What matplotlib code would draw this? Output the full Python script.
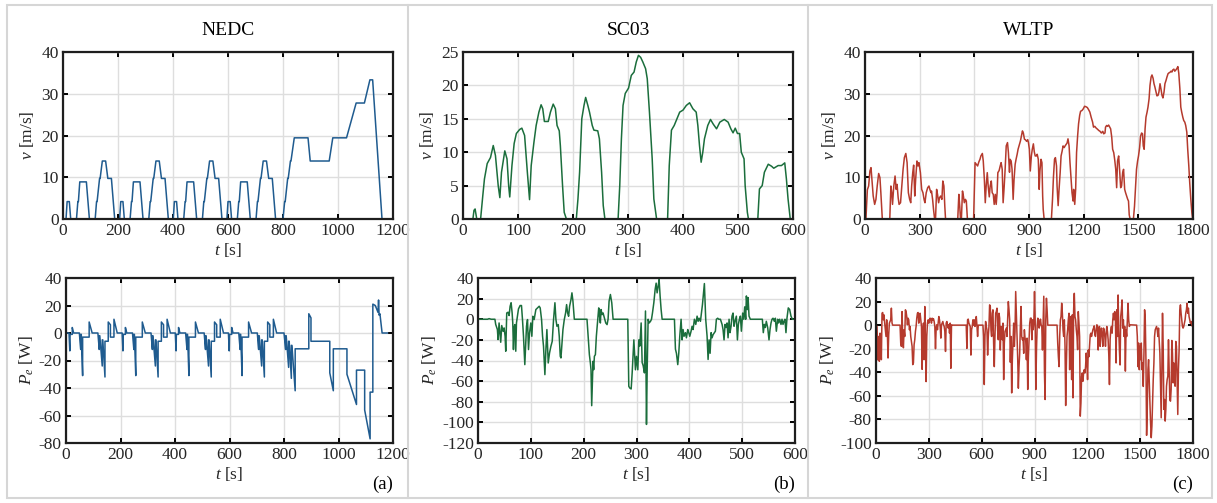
import matplotlib
matplotlib.use("Agg")
import matplotlib.pyplot as plt
from matplotlib.lines import Line2D
from matplotlib.patches import Rectangle

plt.rcParams["font.family"] = ["Liberation Serif", "DejaVu Serif"]
plt.rcParams["mathtext.fontset"] = "custom"
plt.rcParams["mathtext.rm"] = "Liberation Serif"
plt.rcParams["mathtext.it"] = "Liberation Serif:italic"
plt.rcParams["axes.unicode_minus"] = False

# ---- data, (t [s], value) pairs ----
cycles = ["NEDC", "SC03", "WLTP"]
panel_tags = ["(a)", "(b)", "(c)"]
colors = ["#1f5b8f", "#1b6e3c", "#b53a2d"]

# NEDC speed [m/s]
nedc_v = [
    (0, 0), (11, 0), (15, 4.17), (23, 4.17), (28, 0), (49, 0), (54, 4.17), (56, 4.17), (61, 8.89), (85, 8.89),
    (96, 0), (117, 0), (122, 4.17), (124, 4.17), (133, 9.72), (135, 9.72), (143, 13.89), (155, 13.89), (163, 9.72),
    (176, 9.72), (188, 0),
    (206, 0), (210, 4.17), (218, 4.17), (223, 0), (244, 0), (249, 4.17), (251, 4.17), (256, 8.89), (280, 8.89),
    (291, 0), (312, 0), (317, 4.17), (319, 4.17), (328, 9.72), (330, 9.72), (338, 13.89), (350, 13.89), (358, 9.72),
    (371, 9.72), (383, 0),
    (401, 0), (405, 4.17), (413, 4.17), (418, 0), (439, 0), (444, 4.17), (446, 4.17), (451, 8.89), (475, 8.89),
    (486, 0), (507, 0), (512, 4.17), (514, 4.17), (523, 9.72), (525, 9.72), (533, 13.89), (545, 13.89), (553, 9.72),
    (566, 9.72), (578, 0),
    (596, 0), (600, 4.17), (608, 4.17), (613, 0), (634, 0), (639, 4.17), (641, 4.17), (646, 8.89), (670, 8.89),
    (681, 0), (702, 0), (707, 4.17), (709, 4.17), (718, 9.72), (720, 9.72), (728, 13.89), (740, 13.89), (748, 9.72),
    (761, 9.72), (773, 0),
    (800, 0), (806, 4.17), (808, 4.17), (817, 9.72), (819, 9.72), (827, 13.89), (829, 13.89), (841, 19.44),
    (891, 19.44), (899, 13.89), (968, 13.89), (981, 19.44), (1031, 19.44), (1066, 27.78), (1096, 27.78),
    (1116, 33.33), (1126, 33.33), (1160, 0), (1180, 0),
]

# NEDC power [W]
nedc_p = [
    (0, 0), (11, 0), (14, -13), (15, -1), (23, -1), (23, 4), (28, 0), (49, 0), (54, -12), (54, -1), (56, -1),
    (61, -31), (61, -3), (85, -3), (85, 8), (96, 0), (117, 0), (122, -12), (122, -2), (124, -2), (133, -24),
    (133, -5), (135, -5), (143, -32), (143, -6), (155, -6), (155, 8), (163, 6), (163, -3), (176, -3), (176, 10),
    (188, 0),
    (206, 0), (209, -13), (210, -1), (218, -1), (218, 4), (223, 0), (244, 0), (249, -12), (249, -1), (251, -1),
    (256, -31), (256, -3), (280, -3), (280, 8), (291, 0), (312, 0), (317, -12), (317, -2), (319, -2), (328, -24),
    (328, -5), (330, -5), (338, -32), (338, -6), (350, -6), (350, 8), (358, 6), (358, -3), (371, -3), (371, 10),
    (383, 0),
    (401, 0), (404, -13), (405, -1), (413, -1), (413, 4), (418, 0), (439, 0), (444, -12), (444, -1), (446, -1),
    (451, -31), (451, -3), (475, -3), (475, 8), (486, 0), (507, 0), (512, -12), (512, -2), (514, -2), (523, -24),
    (523, -5), (525, -5), (533, -32), (533, -6), (545, -6), (545, 8), (553, 6), (553, -3), (566, -3), (566, 10),
    (578, 0),
    (596, 0), (599, -13), (600, -1), (608, -1), (608, 4), (613, 0), (634, 0), (639, -12), (639, -1), (641, -1),
    (646, -31), (646, -3), (670, -3), (670, 8), (681, 0), (702, 0), (707, -12), (707, -2), (709, -2), (718, -24),
    (718, -5), (720, -5), (728, -32), (728, -6), (740, -6), (740, 8), (748, 6), (748, -3), (761, -3), (761, 10),
    (773, 0),
    (800, 0), (806, -12), (806, -2), (808, -2), (817, -25), (817, -6), (819, -6), (827, -33), (827, -9), (829, -9),
    (841, -42), (841, -11.5), (891, -11.5), (891, 14), (899, 11), (899, -6), (968, -6), (968, -29), (981, -42),
    (981, -11.5), (1031, -11.5), (1031, -30), (1066, -52), (1066, -27), (1096, -27), (1096, -56), (1116, -77),
    (1116, -43), (1126, -43), (1126, 21), (1135, 20), (1145, 15), (1147, 24), (1149, 13), (1152, 14), (1160, 0),
    (1180, 0),
]

# SC03 speed [m/s]
sc03_v = [
    (0, 0), (18, 0), (20, 1.3), (22, 1.5), (25, 0), (32, 0), (36, 3.5), (39, 6), (44, 8.3), (50, 9.2), (55, 11.0),
    (59, 9.5), (64, 5), (67, 3.2), (70, 7), (76, 10.2), (80, 9), (83, 5), (85, 3.3), (89, 8), (93, 11.3),
    (97, 12.8), (103, 13.4), (107, 13.6), (112, 12.5), (117, 7), (121, 2.9), (124, 8), (129, 11.5), (133, 14),
    (138, 16), (142, 17.1), (145, 16.5), (148, 14.6), (155, 14.6), (159, 16), (164, 17.2), (168, 16.5), (171, 14),
    (175, 13.2), (177, 11), (181, 5), (184, 1), (188, 0), (206, 0), (209, 3), (212, 7), (216, 15), (220, 17),
    (223, 18.2), (227, 17), (230, 16), (235, 14), (238, 13.3), (245, 13.2), (248, 12), (252, 7), (255, 2),
    (258, 0), (282, 0), (285, 5), (288, 12), (291, 17), (295, 18.8), (301, 19.6), (306, 21.5), (311, 22),
    (315, 23.5), (319, 24.5), (323, 24.2), (327, 23.5), (332, 22.5), (335, 21), (339, 16), (344, 9), (347, 3),
    (352, 0), (372, 0), (375, 8), (379, 13.3), (384, 14), (388, 14.8), (394, 16), (400, 16.3), (406, 17),
    (412, 17.4), (418, 16.5), (424, 16), (427, 14), (430, 11), (433, 8.5), (436, 10), (439, 12), (445, 14),
    (450, 14.9), (455, 14.2), (461, 13.5), (467, 14.5), (475, 14.9), (482, 14.5), (487, 13.5), (491, 12.9),
    (495, 13.6), (499, 12.8), (503, 12.8), (506, 10), (511, 9), (513, 5), (517, 1), (519, 0), (536, 0),
    (539, 4.5), (544, 5), (548, 7), (555, 8.2), (561, 7.9), (565, 7.6), (573, 8), (579, 8), (585, 8.4), (588, 6),
    (591, 3), (595, 0), (600, 0),
]

# SC03 power [W]
sc03_p = [
    (0, 0), (18, 0), (21, 0.6), (25, 0), (32, 0), (33.5, -5), (36.7, -10), (38, -19.7), (39.9, -3.6),
    (41.8, -14.6), (43, -22.3), (44.9, -6.1), (47.5, -11.7), (49.4, -8.4), (51.3, -16.5), (52.5, -31),
    (54.4, 6.1), (57, 6.8), (58.9, 3.6), (60.8, 12.6), (62.7, 16), (64.6, 6.1), (65.8, -3.6), (67.1, -29.4),
    (68.4, -8.4), (69.6, -5.2), (71.5, -31), (72.8, -3.6), (74.7, 2.9), (76.6, 10), (79.7, 13.3), (82.3, 13.3),
    (84.2, -0.3), (86.1, -16.5), (88.6, -44), (90.5, -23), (91.8, -6.8), (93.7, -0.3), (95.6, -29.4),
    (97.5, -13.3), (100, -3.6), (101.9, -16.5), (103.8, 2.9), (106.3, -0.3), (109.5, 9.4), (112.7, 11),
    (115.8, 12.6), (117.7, 11), (120.3, -0.3), (122.2, -16.5), (124, -26.2), (126.6, -53.7), (128.5, -29.4),
    (130.4, -10), (132.9, -42.4), (135.4, -32.7), (138, -26.2), (140.5, -21.4), (143, -0.3), (145.6, 16),
    (147.5, -0.3), (149.4, -6.8), (151.9, -5.2), (153.8, -16.5), (155.7, -35.9), (157, -37.5), (158.9, -23),
    (160.8, -10), (163.3, -0.3), (165.8, 6.1), (167.7, 14.2), (169.6, 6.1), (171.5, 2.9), (173.4, 12.6),
    (176, 19.1), (177.8, 25.6), (179.7, 17.5), (182.3, 0), (206.3, 0), (208.9, -19.7), (210.8, -34.3),
    (212.7, -42.4), (213.9, -49), (215.2, -83.8), (216.5, -61.8), (217.7, -40.8), (219, -48.9), (220.3, -35.9),
    (222.2, -34.3), (224, -16.5), (226.6, 0), (228.5, 11), (229.7, 4.5), (231.6, -3.6), (232.9, 9.4),
    (234.8, 4.5), (236.7, 6.1), (239.2, 1.3), (241.8, -3.6), (244.3, -5.2), (246.2, 0), (248.1, 17.5),
    (250.6, 24), (253.2, 15.9), (255.7, 0), (283.5, 0), (285.4, -65), (287.3, -66.7), (289.9, -67.6),
    (291.8, -52), (295, -20), (298, -49), (300, -36), (302.5, -49), (304.4, -20), (306.3, -26), (308.8, -3.6),
    (310.7, -42), (312.6, -45), (315, -52), (317, 8), (318.9, -102), (320.2, -49), (322, 0), (324, -3.6),
    (326.5, -2), (328.4, 0), (330.2, 6), (332.8, 16), (335.3, 29), (337.2, 35), (339, 25.6), (341, 32),
    (342.8, 38.5), (344.7, 22.3), (346.6, 9.4), (348.5, 0), (371.8, 0), (373.7, -29), (375.6, -33),
    (378.1, -44), (380, -33), (381.9, -16.5), (384.4, 0), (386.3, -20), (388.2, -10), (390, -16.5),
    (392.6, -13), (394.5, -18), (397, -10), (398.9, -13), (400.8, -16.5), (403.3, -11.6), (405.2, -6.8),
    (407.1, -10), (409.6, 0), (412.2, -5), (414.7, 3), (416.6, -2), (418.5, 1), (421, -2), (422.9, 6),
    (424.8, 14), (426.8, 25.6), (428.5, 34.6), (431, 0), (433.6, -16.5), (435.5, -39), (437.4, -20),
    (439.3, -33), (441.2, -13), (443, -18), (444.9, -15), (447.5, -13), (449.3, -11.6), (451.2, 0),
    (453.7, 1), (455.6, 0), (458.8, 0), (462, -5), (463.8, -10), (465.7, -20), (467.6, -5), (469.5, -8),
    (471.4, -3.6), (473.3, -18), (475.2, 0), (477, -13), (479, -6.8), (480.8, 3), (482.7, 6), (484.6, -6.8),
    (486.5, -2), (489, 3), (491, -20), (492.8, -5), (494.7, 0), (496.6, 3), (498.5, -11.6), (501, 6),
    (503, 0), (504.8, 12), (506.7, 0), (508, 22.6), (509.9, 9.4), (511.2, 21), (513, 3), (515.5, 0),
    (538.2, 0), (540, -13), (542, -5), (543.9, -8), (545.7, -2), (548.3, -8), (550.8, -20), (552.7, -10),
    (554.6, -3.6), (556.5, 0), (558.4, 1), (560.9, -2), (562.8, 1), (564.7, -11.6), (567.2, 0), (569, -3.6),
    (571, 0), (573.5, -5), (575.4, 0), (577.3, -5), (579.1, -2), (581, 0), (582.9, -13), (584.8, 1),
    (587.3, 11), (589.9, 9.4), (592.4, 3), (594.9, 0), (600, 0),
]

# WLTP speed [m/s]
wltp_v = [
    (0, 0), (5, 0), (13, 7), (20, 7.9), (27, 11.5), (33, 12.3), (38, 9.5), (45, 5.5), (53, 3.5), (60, 4.7),
    (67, 7.9), (75, 10.9), (82, 9.9), (87, 6.3), (95, 0), (136, 0), (142, 7.9), (147, 6.3), (151, 3.5),
    (158, 7.9), (165, 10.3), (171, 7.1), (176, 8.3), (182, 5.1), (187, 3.5), (195, 3.9), (202, 7.9),
    (209, 11.9), (216, 14.7), (224, 15.7), (231, 13.5), (238, 6.3), (245, 4.7), (251, 3.9), (256, 7.9),
    (262, 11.1), (267, 12.9), (273, 5.5), (278, 9.5), (285, 13.9), (291, 12.7), (296, 13.5), (304, 11.1),
    (311, 7.1), (318, 6.3), (324, 4.7), (329, 3.9), (336, 6.3), (344, 7.5), (351, 7.9), (356, 7.1), (362, 6.3),
    (365, 6.7), (371, 4.7), (376, 2.3), (382, 0), (387, 0), (393, 7.1), (398, 5.9), (404, 3.9), (409, 5.1),
    (415, 5.5), (422, 4.7), (427, 9.1), (433, 7.9), (438, 3.0), (442, 0), (509, 0), (515, 5.9), (520, 3.0),
    (524, 0), (529, 0), (535, 6.7), (540, 5.5), (545, 3.9), (551, 4.7), (556, 4.3), (562, 0), (596, 0),
    (604, 13.5), (611, 13.1), (618, 12.7), (625, 13.7), (631, 14.3), (636, 15.1), (644, 15.7), (649, 13.9),
    (655, 9.5), (660, 3.9), (665, 7.9), (671, 11.1), (676, 7.9), (682, 5.3), (687, 7.9), (693, 9.1),
    (698, 6.3), (704, 5.9), (709, 3.5), (715, 5.9), (720, 3.5), (725, 6.3), (729, 11.1), (736, 11.6),
    (742, 12.7), (747, 13.5), (753, 11.9), (758, 3.9), (764, 7.9), (769, 11.9), (775, 17.5), (782, 18.3),
    (787, 15.9), (793, 11.2), (796, 14.3), (802, 13.9), (807, 11.9), (813, 4.7), (818, 9.5), (824, 13.1),
    (829, 14.3), (835, 15.5), (840, 16.7), (845, 17.5), (853, 18.7), (858, 19.8), (864, 21.1), (869, 20.6),
    (875, 19.1), (880, 19.0), (887, 18.6), (893, 19.0), (897, 18.3), (902, 16.7), (907, 11.5), (913, 15.1),
    (918, 16.7), (924, 18.0), (929, 16.1), (934, 15.1), (940, 15.1), (945, 15.5), (951, 14.3), (956, 7.1),
    (960, 11.5), (966, 14.3), (971, 13.5), (975, 5.5), (978, 2.3), (983, 0), (1023, 0), (1029, 4.7),
    (1034, 9.9), (1040, 14.3), (1045, 14.7), (1051, 12.7), (1054, 7.9), (1060, 3.2), (1065, 7.1),
    (1071, 11.1), (1076, 15.1), (1082, 16.3), (1087, 17.5), (1093, 17.1), (1098, 17.5), (1104, 17.9),
    (1109, 18.2), (1114, 19.2), (1120, 17.5), (1125, 13.5), (1131, 9.5), (1136, 6.3), (1142, 4.3),
    (1145, 7.1), (1151, 3.5), (1156, 7.1), (1161, 15.9), (1167, 20), (1172, 22.8), (1178, 24.8),
    (1183, 25.8), (1191, 26), (1198, 26.4), (1205, 27), (1212, 26.9), (1220, 26.7), (1227, 26.2),
    (1234, 25.6), (1241, 24.4), (1249, 23.2), (1254, 22), (1261, 22.2), (1268, 21.8), (1276, 21.5),
    (1283, 21.2), (1290, 21), (1297, 20.6), (1305, 21), (1310, 20.4), (1317, 20.6), (1320, 22), (1326, 22.4),
    (1331, 22.2), (1337, 22.5), (1343, 22), (1348, 21.6), (1354, 19.6), (1359, 16.7), (1365, 15.9),
    (1370, 14.3), (1376, 11.9), (1381, 7.5), (1386, 13.9), (1392, 15.1), (1397, 11.9), (1403, 7.5),
    (1408, 7.9), (1414, 11.1), (1419, 11.9), (1425, 7.1), (1430, 6.3), (1436, 5.5), (1441, 4.8), (1446, 4.3),
    (1450, 1), (1455, 0), (1473, 0), (1479, 3.1), (1485, 7.9), (1490, 11.9), (1496, 13.9), (1501, 15.1),
    (1507, 17.1), (1512, 19.8), (1518, 20.6), (1523, 20.4), (1527, 17.5), (1532, 16.7), (1537, 21.6),
    (1542, 24.4), (1548, 25.6), (1553, 26.8), (1559, 28.8), (1564, 32), (1570, 34), (1575, 34.5),
    (1581, 33.7), (1586, 32.4), (1591, 31.6), (1597, 30.4), (1602, 29.5), (1608, 29.6), (1613, 30.4),
    (1619, 32.4), (1624, 31.2), (1630, 29.6), (1635, 29), (1641, 30.4), (1646, 32.4), (1652, 33.2),
    (1657, 34), (1663, 34.8), (1668, 35), (1673, 35.1), (1679, 35.4), (1684, 35.2), (1689, 35.7),
    (1695, 35.9), (1700, 35.4), (1706, 35.7), (1711, 36), (1717, 36.5), (1722, 34.9), (1728, 31.2),
    (1733, 26.8), (1738, 25.6), (1744, 24.4), (1749, 23.6), (1755, 23.2), (1760, 22.4), (1766, 20.8),
    (1771, 16.7), (1777, 12.7), (1782, 8.7), (1788, 4.7), (1794, 1.4), (1798, 0), (1800, 0),
]

# WLTP power [W]
wltp_p = [
    (0, 0), (5.7, -1.1), (11.4, -29.6), (15.2, -9.6), (19, -30.7), (22.8, -6.8), (26.6, -12.4), (30.4, -29.3),
    (34.2, 10.1), (38, 10.7), (41.7, 4.5), (45.5, 8.7), (49.3, 1.7), (53.1, -3.9), (56.9, -9.6), (60.7, 4.5),
    (64.5, -6.8), (68.3, -27.9), (72.1, -8.2), (75.9, 1.7), (79.7, 3.1), (83.5, 4.5), (87.3, 14.4),
    (91.1, 1.7), (94.9, 0), (136.6, 0), (140.4, -15.2), (144.2, -18), (148, 11.5), (151.8, -12.4),
    (155.6, -19.2), (159.4, -3.9), (163.2, -9.6), (167, 13), (170.8, 11.5), (174.6, 7.3), (178.4, 0.3),
    (182.2, 5.9), (186, 4.5), (189.8, -3.9), (193.5, -1.1), (197.3, -9.6), (201.1, -13.8), (204.9, -18),
    (208.7, -33.5), (212.5, -32.1), (216.3, -16.6), (220.1, -12.4), (223.9, -5.4), (227.7, -1.1),
    (231.5, 5.9), (235.3, 10.1), (239.1, 10.7), (242.9, 1.7), (246.7, 7.3), (250.5, 10.1), (254.3, 4.5),
    (258.1, -1.1), (261.9, -37.5), (265.7, -9.6), (269.4, 1.7), (273.2, -29.3), (277, 15.8), (280.8, -12.4),
    (284.6, -47.9), (288.4, -9.6), (292.2, 1.7), (296, 4.5), (299.8, 1.7), (303.6, 4.5), (307.4, 5.9),
    (311.2, 4.5), (315, 1.7), (318.8, 5.9), (322.6, 4.5), (326.4, 5.4), (330.2, 3.1), (334, -1.1),
    (337.8, -20), (341.6, -2.5), (345.4, 0.3), (349.1, -3.9), (352.9, 1.7), (356.7, 7.3), (360.5, 4.5),
    (364.3, -1.1), (368.1, -11), (371.9, 0.3), (375.7, 1.7), (379.5, 3.1), (383.3, 0.3), (387.1, -1.1),
    (390.9, -5.4), (394.7, -22.3), (398.5, 1.7), (402.3, 3.1), (406.1, 0.3), (409.9, -2.5), (413.7, 0.3),
    (417.5, -6.8), (421.3, 1.7), (425, -36.6), (428.8, 0.3), (432.6, 0), (512.3, 0), (516.1, -19.7),
    (519.9, 4.5), (523.7, 5.1), (527.5, 1.7), (531.3, 0.3), (535.1, -1.1), (538.9, -25.4), (542.7, -3.9),
    (546.5, -1.1), (550.3, 4.5), (554.1, 0), (557.9, 4.5), (561.7, -1.1), (565.5, 0.3), (569.3, 7.3),
    (573.1, 0), (576.9, -9.6), (580.6, 0), (607.2, 0), (611, -9.6), (614.8, -50.4), (618.6, -9.6),
    (622.4, 3.1), (626.2, -1.1), (630, -3.9), (633.8, -25.4), (637.6, -9.6), (641.4, -1.1), (645.2, 17.2),
    (649, 15.8), (652.8, -3.9), (656.5, -9.6), (660.3, 10.1), (664.1, 13), (667.9, -15.2), (671.7, -35.2),
    (675.5, -9.6), (679.3, 10.1), (683.1, 11.5), (686.9, 14.4), (690.7, -3.9), (694.5, -12.4), (698.3, 10.1),
    (702.1, 5.9), (705.9, -21.1), (709.7, -1.1), (713.5, -3.9), (717.3, -12.4), (721.1, 1.7), (724.9, -46.2),
    (728.7, -15.2), (732.5, -5.4), (736.2, -3.9), (740, -2.5), (743.8, -9.6), (747.6, 4.5), (751.4, 20),
    (755.2, 13), (759, 4.5), (762.8, -31.5), (766.6, -9.6), (770.4, -57.5), (774.2, -29.3), (778, -12.4),
    (781.8, 1.7), (785.6, -18), (789.4, -5.4), (793.2, 28.5), (797, 10.1), (800.8, -9.6), (804.6, -27.9),
    (808.3, -53.5), (812.1, -35.2), (815.9, -23.9), (819.7, -1.1), (823.5, 15.8), (827.3, -9.6),
    (831.1, -12.4), (834.9, -11), (838.7, -23.9), (842.5, -3.9), (846.3, -11), (850.1, -12.4), (853.9, -29.3),
    (857.7, -11), (861.5, -54.6), (865.3, -26.8), (869.1, -12.4), (872.9, 1.7), (876.7, 5.9), (881.2, 5.9),
    (884.9, -12.4), (888.7, 4.5), (892.5, -3.9), (896.2, 1.7), (900, 28.5), (903.8, 4.5), (907.5, -54.6),
    (911.3, -21.1), (915.1, -1.1), (918.8, 5.9), (922.6, 4.5), (926.4, -2.5), (930.1, 0.3), (933.9, 5.1),
    (937.7, 0.3), (941.4, -1.1), (945.2, -21.1), (949, 0.3), (952.7, 24.5), (956.5, -40.6), (960.3, -63.1),
    (964, 4.5), (967.8, 22.8), (971.6, 13), (975.3, 0), (1028.1, 0), (1031.8, -15.2), (1035.6, -26.8),
    (1039.4, -35.2), (1043.1, -9.6), (1046.9, 4.5), (1050.7, 7.3), (1054.4, 18.6), (1058.2, 10.1),
    (1062, -3.9), (1065.7, -9.6), (1069.5, 4.5), (1073.3, -18), (1077, -68.2), (1080.8, -35.2),
    (1084.6, -9.6), (1088.3, -3.9), (1092.1, 4.5), (1095.9, 10.1), (1099.6, -37.8), (1103.4, 7.3),
    (1107.2, 5.9), (1110.9, -46.2), (1114.7, 8.7), (1118.5, -61.7), (1122.2, 13), (1126, 27), (1129.8, 7.3),
    (1133.5, 4.5), (1137.3, -3.9), (1141.1, -9.6), (1144.9, -20.8), (1148.6, 11.5), (1152.4, 1.7),
    (1156.1, -9.6), (1159.9, -77.2), (1163.7, -66), (1167.4, -43.4), (1171.2, -40.6), (1175, -47.6),
    (1178.7, -40.6), (1182.5, -37.8), (1186.3, -40.6), (1190, -35), (1193.8, -23.7), (1197.6, -32.1),
    (1201.3, -46.2), (1205.1, -21.1), (1208.9, -26.8), (1212.6, -18), (1216.4, -8.2), (1220.2, -6.8),
    (1223.9, -9.6), (1227.7, -6.8), (1231.5, -3.9), (1235.2, -2.5), (1239, -0.6), (1242.7, -8.2),
    (1246.5, -9.6), (1250.3, -3.9), (1254, 0.3), (1257.8, -0.6), (1261.6, -21.1), (1265.3, -3.9),
    (1269.1, -1.1), (1272.9, -18), (1276.6, -5.4), (1280.4, -2.5), (1284.2, -9.6), (1287.9, -18),
    (1291.7, -2.5), (1295.5, -3.9), (1299.2, -9.6), (1303, -18), (1306.8, -6.8), (1310.5, -1.1),
    (1314.3, -5.4), (1318.1, -12.4), (1321.8, -25), (1325.6, -50.4), (1329.4, -12.4), (1333.1, -3.9),
    (1336.9, -1.1), (1340.7, -6.8), (1344.4, 4.5), (1348.2, 10.1), (1352, 4.5), (1355.7, 11.5),
    (1359.5, 5.9), (1363.3, -32.1), (1367, 13), (1370.8, -9.6), (1374.6, 25.6), (1378.3, -3.9),
    (1382.1, -20.8), (1385.9, -33.8), (1389.6, 7.3), (1393.4, 13), (1397.2, 21.4), (1400.9, -2.5),
    (1404.7, 4.5), (1408.5, -9.6), (1412.2, -1.1), (1416, -39), (1419.8, -3.9), (1423.5, -9.6),
    (1427.3, 4.5), (1431.1, 18.6), (1434.8, 4.5), (1438.6, -1.1), (1442.4, 0.3), (1480, 0), (1483.8, -9.6),
    (1487.6, -35.2), (1491.3, -15.2), (1495.1, -37.8), (1498.9, -18), (1502.6, -29.3), (1506.4, -15.2),
    (1510.2, -37.8), (1514, -32.1), (1517.7, -52), (1521.5, -23.9), (1525.2, 13), (1529, 4.5),
    (1532.8, -29.3), (1536.5, -93.5), (1540.3, -71.5), (1544.1, -37.8), (1547.8, -29.3), (1551.6, -46.2),
    (1555.4, -65.9), (1559.1, -82.8), (1562.9, -95.5), (1566.7, -85.6), (1570.4, -65.9), (1574.2, -46.2),
    (1578, -32.1), (1581.7, -9.6), (1585.5, -3.9), (1589.3, -2.5), (1593, -1.1), (1596.8, -3.9),
    (1600.6, -9.6), (1604.3, -2.5), (1608.1, -12.4), (1611.9, -23.7), (1615.6, -51.8), (1619.4, -78.6),
    (1623.2, -37.8), (1626.9, 10.1), (1630.7, -18), (1634.5, -71.5), (1638.2, -63.1), (1642, -81.4),
    (1645.8, -71.5), (1649.5, -51.8), (1653.3, -46.2), (1657.1, -43.4), (1660.8, -12.4), (1664.6, -37.8),
    (1668.4, -63.1), (1672.1, -64.5), (1675.9, -54.6), (1679.7, -13), (1683.4, -23.9), (1687.2, -49),
    (1691, -32.1), (1694.7, -37.8), (1698.5, -51.8), (1702.3, -13.8), (1706, -18), (1709.8, -46.2),
    (1713.6, -75.8), (1717.3, -37.8), (1721.1, -21.1), (1724.9, 13), (1728.7, 17.2), (1732.4, 10.1),
    (1736.2, 4.5), (1740, -1.1), (1743.7, -2.5), (1747.5, -1.1), (1751.3, 1.7), (1755, 4.5), (1758.8, 10.1),
    (1762.6, 13), (1766.3, 18.6), (1770.1, 10.1), (1773.9, 14.4), (1777.6, 7.3), (1781.4, 4.5),
    (1785.2, 1.7), (1788.9, 3.1), (1792.7, 1.1), (1796.5, -1.1), (1800, 0),
]

speed_data = [nedc_v, sc03_v, wltp_v]
power_data = [nedc_p, sc03_p, wltp_p]

x_max = [1200, 600, 1800]
x_step = [200, 100, 300]
v_lim = [(0, 40), (0, 25), (0, 40)]
v_step = [10, 5, 10]
p_lim = [(-80, 40), (-120, 40), (-100, 40)]

# axes boxes in pixels of the 1217x503 figure: left, right, top, bottom
W, H = 1217, 503
top_boxes = [(63, 393, 52, 219), (463, 793, 52, 219), (865, 1193, 52, 219)]
bot_boxes = [(66, 393, 278, 443), (478, 795, 278, 443), (876, 1193, 278, 443)]


def px_axes(fig, box):
    l, r, t, b = box
    return fig.add_axes([l / W, 1 - b / H, (r - l) / W, (b - t) / H])


def style(ax, xmax, xstep, ylim, ystep):
    ax.set_xlim(0, xmax)
    ax.set_xticks(range(0, xmax + 1, xstep))
    ax.set_ylim(*ylim)
    ax.set_yticks(range(ylim[0], ylim[1] + 1, ystep))
    ax.grid(True, color="#dedede", lw=1.0)
    ax.set_axisbelow(True)
    ax.tick_params(direction="in", top=True, right=True, length=3.5, width=1.4,
                   labelsize=12.5, labelcolor="#262626", pad=3)
    for s in ax.spines.values():
        s.set_linewidth(1.6)
        s.set_color("#1e1e1e")
    ax.set_xlabel(r"$t$ [s]", fontsize=12.5, labelpad=1, color="#262626")


fig = plt.figure(figsize=(W / 100, H / 100), dpi=100)

for i in range(3):
    ax = px_axes(fig, top_boxes[i])
    t, v = zip(*speed_data[i])
    ax.plot(t, v, color=colors[i], lw=1.1)
    style(ax, x_max[i], x_step[i], v_lim[i], v_step[i])
    ax.set_ylabel(r"$v$ [m/s]", fontsize=12.5, labelpad=4, color="#262626")
    ax.set_title(cycles[i], fontsize=14, pad=12)

    ax = px_axes(fig, bot_boxes[i])
    t, p = zip(*power_data[i])
    ax.plot(t, p, color=colors[i], lw=1.1)
    style(ax, x_max[i], x_step[i], p_lim[i], 20)
    ax.set_ylabel(r"$P_e$ [W]", fontsize=12.5, labelpad=2, color="#262626")

    fig.text(bot_boxes[i][1] / W, 1 - 484 / H, panel_tags[i], ha="right", va="center", fontsize=13.5)

# panel frame and separators
fig.add_artist(Rectangle((7 / W, 5 / H), 1205 / W, 493 / H, transform=fig.transFigure,
                         fill=False, edgecolor="#d6d6d6", lw=1.5))
for xs in [408, 808]:
    fig.add_artist(Line2D([xs / W, xs / W], [5 / H, 1 - 5 / H], transform=fig.transFigure,
                          color="#d6d6d6", lw=1.5))

fig.savefig("out.png", dpi=100)
